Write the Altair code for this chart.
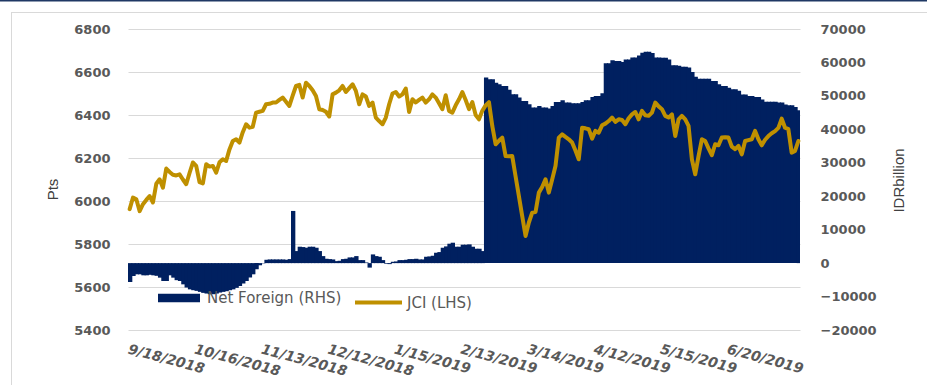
import json
import altair as alt
import pandas as pd

tick_labels = ["9/18/2018", "10/16/2018", "11/13/2018", "12/12/2018", "1/15/2019",
               "2/13/2019", "3/14/2019", "4/12/2019", "5/15/2019", "6/20/2019"]

jci = [
    5962, 6016, 6008, 5953, 5985, 6005, 6023, 5993, 6080, 6101,
    6062, 6151, 6135, 6122, 6119, 6124, 6100, 6078, 6130, 6179,
    6163, 6088, 6082, 6171, 6160, 6163, 6132, 6180, 6194, 6186,
    6240, 6279, 6287, 6272, 6320, 6357, 6341, 6345, 6411, 6415,
    6419, 6450, 6452, 6458, 6458, 6470, 6481, 6462, 6442, 6490,
    6535, 6540, 6481, 6550, 6535, 6515, 6488, 6427, 6423, 6415,
    6393, 6496, 6504, 6515, 6535, 6507, 6525, 6543, 6512, 6450,
    6496, 6486, 6442, 6458, 6388, 6372, 6357, 6388, 6450, 6500,
    6507, 6486, 6496, 6523, 6414, 6473, 6458, 6470, 6481, 6458,
    6473, 6496, 6481, 6455, 6427, 6492, 6419, 6411, 6445, 6473,
    6507, 6470, 6427, 6460, 6400, 6380, 6420, 6445, 6460, 6349,
    6264, 6280, 6295, 6209, 6208, 6209, 6115, 6023, 5930, 5837,
    5900, 5946, 5949, 6039, 6065, 6101, 6039, 6100, 6163, 6295,
    6310, 6298, 6287, 6272, 6235, 6194, 6341, 6338, 6334, 6290,
    6326, 6318, 6352, 6360, 6372, 6388, 6368, 6380, 6377, 6357,
    6385, 6403, 6414, 6380, 6419, 6399, 6396, 6411, 6458, 6440,
    6427, 6396, 6388, 6403, 6302, 6380, 6396, 6380, 6349, 6194,
    6124, 6209, 6287, 6279, 6245, 6213, 6264, 6259, 6295, 6297,
    6295, 6253, 6241, 6256, 6217, 6279, 6283, 6287, 6326, 6287,
    6259, 6285, 6302, 6315, 6325, 6340, 6383, 6341, 6334, 6225,
    6233, 6279,
]

net_foreign = [
    -5650, -3850, -3350, -3350, -3650, -3650, -3500, -3650, -3800, -4350,
    -5350, -5350, -3650, -4350, -5100, -5350, -6350, -7300, -7850, -8100,
    -8300, -8600, -8900, -9100, -9300, -9300, -9100, -8800, -8600, -8400,
    -8100, -7850, -7400, -6850, -6100, -5350, -4300, -3350, -1850, -650,
    -100, 1000, 1100, 1100, 1100, 1100, 1100, 1000, 1200, 15600,
    3600, 4900, 4800, 4600, 4900, 4900, 4600, 3600, 2100, 1300,
    1200, 1100, 600, 700, 1200, 1300, 1700, 1700, 2100, 900,
    900, 200, -1350, 2600, 2100, 1900, 900, -200, -300, 400,
    500, 900, 900, 1000, 1200, 1200, 1300, 1100, 1100, 1900,
    2000, 2200, 3100, 3300, 4600, 5000, 5800, 6100, 4900, 4900,
    5500, 5500, 5600, 4900, 4300, 4300, 3600, 55500, 55000, 55000,
    53900, 53500, 52950, 52950, 51800, 50500, 50500, 49500, 48500, 48500,
    47500, 46500, 46500, 47000, 46500, 46500, 46200, 47000, 48200, 48200,
    48700, 48000, 48000, 47800, 47800, 47800, 48200, 48700, 48700, 49700,
    50000, 50000, 50800, 59750, 59750, 60650, 60400, 60400, 60100, 60900,
    60900, 61450, 61450, 62100, 62900, 63200, 63200, 62800, 61450, 61450,
    61400, 61400, 60900, 59150, 59150, 59000, 58750, 58750, 58500, 57150,
    55750, 55150, 55150, 55150, 55150, 54450, 54450, 53450, 52950, 52950,
    52450, 51950, 51950, 51500, 50450, 50450, 49950, 49950, 49700, 49700,
    48950, 48250, 48250, 48250, 48250, 48000, 48000, 47450, 47200, 47200,
    46650, 45700,
]

series_names = ["Net Foreign (RHS)", "JCI (LHS)"]
navy = "#002060"
gold = "#BF9000"
grey_txt = "#595959"

n = len(jci)
df = pd.DataFrame({"i": list(range(n)), "jci": jci, "nf": net_foreign})
df["nf_series"] = series_names[0]
df["jci_series"] = series_names[1]

tick_vals = [k * 20 + 0.5 for k in range(len(tick_labels))]
label_expr = json.dumps(tick_labels) + "[floor(datum.value / 20)]"

xscale = alt.Scale(domain=[0, n], nice=False, zero=False)

base = alt.Chart(df)

# each column reaches slightly into the next one so that no seams appear
bars = base.transform_calculate(
    i_end=f"min(datum.i + 1.3, {n})").mark_rect().encode(
    x=alt.X("i:Q", scale=xscale,
            axis=alt.Axis(values=tick_vals, labelExpr=label_expr, labelAngle=15,
                          labelAlign="left", labelBaseline="top", labelPadding=12,
                          grid=False, ticks=False, domain=False, labelOverlap=False,
                          labelFlush=False, labelBound=False,
                          labelFont="DejaVu Sans", labelFontWeight="bold",
                          labelFontStyle="italic", labelFontSize=14,
                          labelColor=grey_txt, title=None)),
    x2="i_end:Q",
    y=alt.Y("nf:Q", scale=alt.Scale(domain=[-20000, 70000], nice=False, zero=False),
            axis=alt.Axis(orient="right", values=list(range(-20000, 70001, 10000)),
                          format="d", grid=False, ticks=False, domain=False,
                          labelPadding=20, labelFont="DejaVu Sans", labelFontWeight="bold",
                          labelFontSize=13, labelColor=grey_txt,
                          title="IDRbillion", titleFont="Liberation Sans",
                          titleFontSize=15, titleFontWeight="normal", titleColor="#404040",
                          titleAngle=270, titleAlign="center", titleBaseline="middle",
                          titleX=98, titleY=151)),
    y2=alt.datum(0),
    color=alt.Color("nf_series:N",
                    scale=alt.Scale(domain=[series_names[0]], range=[navy]),
                    legend=alt.Legend(orient="none", legendX=30, legendY=248, title=None,
                                      symbolType="M-1,-0.2H1V0.2H-1Z", symbolSize=1764,
                                      symbolStrokeWidth=0, labelOffset=7, padding=0,
                                      labelFont="DejaVu Sans", labelFontSize=15,
                                      labelColor=grey_txt)),
)

line = base.transform_calculate(i_mid="datum.i + 0.5").mark_line(
    strokeWidth=4, strokeJoin="round", strokeCap="round").encode(
    x=alt.X("i_mid:Q", scale=xscale),
    y=alt.Y("jci:Q", scale=alt.Scale(domain=[5400, 6800], nice=False, zero=False),
            axis=alt.Axis(orient="left", values=list(range(5400, 6801, 200)),
                          format="d", grid=True, gridColor="#d9d9d9", gridWidth=1,
                          ticks=False, domain=False, labelPadding=18,
                          labelFont="DejaVu Sans", labelFontWeight="bold",
                          labelFontSize=13, labelColor=grey_txt,
                          title="Pts", titleFont="Liberation Sans", titleFontSize=15,
                          titleFontWeight="normal", titleColor="#404040",
                          titleAngle=270, titleAlign="center", titleBaseline="middle",
                          titleX=-76, titleY=160)),
    stroke=alt.Stroke("jci_series:N",
                      scale=alt.Scale(domain=[series_names[1]], range=[gold]),
                      legend=alt.Legend(orient="none", legendX=225, legendY=248, title=None,
                                        symbolType="stroke", symbolSize=2209,
                                        symbolStrokeWidth=4, labelOffset=3, padding=0,
                                        labelFont="DejaVu Sans", labelFontSize=15,
                                        labelColor=grey_txt)),
)

one = alt.Chart(pd.DataFrame({"a": [0]}))
frame_top = one.mark_rule(color="#d9d9d9", strokeWidth=1).encode(
    x=alt.value(-117), x2=alt.value(799), y=alt.value(-16.5))
frame_left = one.mark_rule(color="#d9d9d9", strokeWidth=1).encode(
    x=alt.value(-116.5), y=alt.value(-17), y2=alt.value(356))
top_band = one.mark_rule(color="#1f3864", strokeWidth=1.5).encode(
    x=alt.value(-128), x2=alt.value(799), y=alt.value(-28.3))

chart = alt.layer(frame_top, frame_left, top_band, bars, line).resolve_scale(
    y="independent", color="independent", stroke="independent"
).properties(
    width=672, height=301,
    autosize=alt.AutoSizeParams(type="none"),
    padding={"left": 128, "top": 29, "right": 127, "bottom": 55},
    background="white",
).configure_view(stroke=None)

chart.save("out.html", embed_options={"renderer": "svg", "actions": False})
